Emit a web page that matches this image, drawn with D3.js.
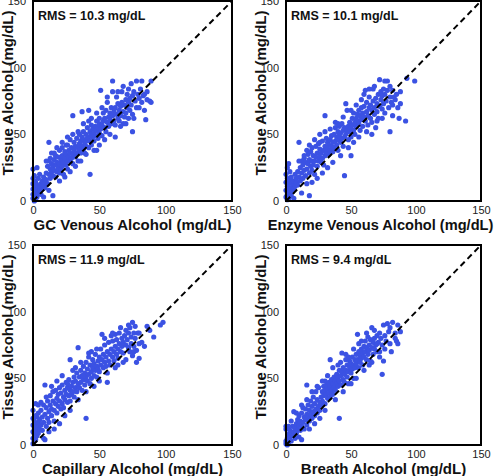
<!DOCTYPE html>
<html><head><meta charset="utf-8">
<script src="https://cdn.jsdelivr.net/npm/d3@7"></script>
<style>
html,body{margin:0;padding:0;background:#fff;}
svg{display:block;font-family:"Liberation Sans",Arial,sans-serif;}
</style></head>
<body>
<svg id="chart" width="496" height="476"></svg>
<script>
const tickValues = [0, 50, 100, 150];
const yTitle = "Tissue Alcohol (mg/dL)";
const xTitles = ["GC Venous Alcohol (mg/dL)", "Enzyme Venous Alcohol (mg/dL)", "Capillary Alcohol (mg/dL)", "Breath Alcohol (mg/dL)"];
const rmsLabels = ["RMS = 10.3 mg/dL", "RMS = 10.1 mg/dL", "RMS = 11.9 mg/dL", "RMS = 9.4 mg/dL"];

const gcVenous = [[0,2],[0,5],[0,9],[0,13],[0,17],[0,24],[1,0],[1,4],[1,11],[1,15],[1,19],[2,1],[2,7],[2,14],[3,3],[3,9],[3,12],[4,6],[4,17],[5,8],[5,11],[6,5],[6,13],[7,9],[7,15],[8,12],[8,18],[9,10],[9,14],[10,16],[10,21],
[11,13],[11,26],[12,20],[12,30],[12,44],[13,17],[13,24],[13,32],[14,22],[14,28],[15,4],[15,19],[15,26],[16,23],[16,31],[17,18],[17,27],[17,34],[18,22],[18,29],[19,25],[19,33],[20,21],[20,28],[20,38],
[21,31],[21,24],[22,26],[22,34],[22,40],[23,29],[23,20],[24,32],[24,37],[25,27],[25,35],[25,42],[26,30],[26,24],[27,33],[27,38],[28,30],[28,36],[28,46],[29,32],[29,40],[30,35],[30,64],[30,28],
[31,38],[31,44],[32,33],[32,41],[33,36],[33,47],[34,40],[34,30],[35,43],[35,38],[35,50],[36,45],[36,36],[37,41],[37,48],[37,67],[38,39],[38,46],[38,52],[39,43],[39,36],[40,45],[40,50],[40,41],
[41,47],[41,55],[42,40],[42,48],[42,68],[43,20],[43,45],[43,52],[44,50],[44,42],[44,57],[45,48],[45,54],[46,51],[46,45],[47,56],[47,49],[48,53],[48,60],[49,47],[49,55],[50,58],[50,51],[50,62],
[51,54],[51,83],[52,57],[52,49],[53,60],[53,66],[54,55],[54,62],[55,52],[55,68],[56,59],[56,78],[57,63],[57,56],[58,66],[58,61],[59,58],[59,70],[60,90],[60,64],[60,82],
[61,60],[61,67],[62,57],[62,70],[63,65],[63,78],[64,62],[64,73],[65,68],[65,60],[66,71],[66,64],[67,82],[67,74],[68,67],[68,58],[69,72],[69,63],[70,76],[70,66],
[71,70],[71,80],[72,84],[72,74],[73,68],[73,77],[74,72],[75,52],[75,79],[75,65],[76,62],[76,82],[77,75],[78,90],[78,70],[79,80],[80,77],
[81,84],[82,90],[82,74],[83,79],[84,80],[85,61],[86,76],[88,75],[89,74],[89,90],
[10,30],[14,36],[18,40],[22,44],[26,48],[20,15],[24,18],[28,22],[32,26],[34,52],[38,58],[36,30],[40,35],[44,62],[46,38],[48,66],[50,42],[52,70],[54,46],[56,74],
[58,50],[62,48],[64,82],[66,56],[68,86],[70,58],[72,62],[74,88],[80,70],[84,68],[86,82],[5,20],[3,25],[8,3],[12,8],[30,50],[42,60],[26,42],[16,36],[48,38]];

const enzymeVenous = [[0,3],[0,8],[0,14],[0,20],[1,1],[1,5],[1,11],[1,17],[1,25],[2,2],[2,9],[2,13],[3,6],[3,16],[3,22],[4,4],[4,10],[5,7],[5,13],[6,15],[6,9],[7,11],[7,20],[8,14],[8,17],[9,12],[9,22],[10,18],[10,44],
[11,15],[11,25],[12,21],[12,30],[13,17],[13,27],[14,23],[14,32],[15,19],[15,29],[16,24],[16,13],[17,28],[17,35],[18,4],[18,21],[18,31],[19,26],[19,37],[20,23],[20,30],[20,40],
[21,27],[21,34],[22,30],[22,20],[23,33],[23,41],[24,26],[24,36],[25,30],[25,43],[26,33],[26,39],[27,29],[27,36],[28,32],[28,45],[29,38],[29,27],[30,64],[30,34],[30,41],
[31,36],[31,47],[32,39],[32,44],[33,35],[33,42],[34,46],[34,38],[35,41],[35,49],[36,37],[36,44],[37,50],[37,40],[38,45],[38,55],[39,42],[39,48],[40,52],[40,38],[40,46],
[41,49],[41,56],[42,44],[42,51],[43,47],[43,58],[44,53],[44,41],[45,19],[45,55],[45,48],[46,50],[46,73],[47,68],[47,53],[48,46],[48,56],[49,52],[49,59],[50,55],[50,48],[50,34],
[51,57],[51,62],[52,53],[52,66],[53,59],[53,50],[54,62],[54,56],[55,65],[55,60],[56,58],[56,68],[57,64],[57,53],[58,61],[58,70],[59,66],[59,56],[60,63],[60,80],[60,71],
[61,83],[61,60],[62,67],[62,74],[63,64],[63,57],[64,70],[64,78],[65,62],[65,72],[66,68],[66,59],[67,75],[67,84],[68,70],[68,65],[69,77],[69,55],[70,73],[70,67],
[71,80],[71,62],[72,91],[72,71],[73,76],[73,82],[74,69],[74,79],[75,84],[75,73],[76,66],[76,80],[77,75],[78,90],[78,83],[79,70],[80,52],[80,78],[80,86],
[81,74],[82,83],[82,72],[83,78],[84,76],[85,80],[87,62],[88,73],[92,60],[93,92],[99,90],
[10,30],[14,34],[18,42],[22,46],[26,50],[20,14],[24,17],[28,21],[32,25],[34,54],[38,59],[36,29],[42,34],[44,63],[48,40],[50,68],[52,44],[54,72],[56,48],[58,76],
[62,52],[64,84],[66,50],[68,86],[70,60],[74,62],[76,90],[82,64],[86,70],[88,82],[4,18],[2,28],[6,2],[12,6],[30,52],[40,58],[26,44],[16,38]];

const capillary = [[0,1],[0,5],[0,10],[0,15],[0,20],[0,26],[1,3],[1,8],[1,13],[1,18],[2,4],[2,11],[2,16],[2,31],[3,7],[3,14],[3,21],[4,9],[4,17],[4,24],[5,12],[5,19],[6,15],[6,26],[7,11],[7,21],[8,5],[8,17],[8,30],[9,45],[9,4],[9,23],[10,14],[10,28],
[11,20],[11,33],[12,25],[12,17],[13,30],[13,37],[14,22],[14,27],[15,33],[15,40],[16,18],[16,26],[17,31],[17,41],[18,24],[18,35],[19,29],[19,38],[20,33],[20,43],
[21,27],[21,39],[22,31],[22,45],[23,36],[23,28],[24,41],[24,34],[25,38],[25,47],[26,32],[26,43],[27,37],[27,49],[28,64],[28,41],[28,33],[29,44],[29,38],[30,47],[30,40],
[31,51],[31,36],[32,43],[32,48],[33,54],[33,40],[34,73],[34,46],[35,51],[35,43],[36,56],[36,47],[37,41],[37,52],[38,49],[38,59],[39,45],[39,54],[40,20],[40,51],[40,62],
[41,48],[41,57],[42,53],[42,69],[43,46],[43,60],[44,55],[44,50],[45,58],[45,64],[46,52],[46,61],[47,56],[47,68],[48,59],[48,51],[49,63],[49,57],[50,66],[50,55],
[51,60],[51,72],[52,83],[52,64],[53,58],[53,68],[54,62],[54,75],[55,66],[55,59],[56,47],[56,70],[57,63],[57,77],[58,68],[58,60],[59,72],[59,82],[60,66],[60,78],
[61,70],[61,63],[62,83],[62,74],[63,68],[63,79],[64,72],[64,65],[65,76],[65,84],[66,70],[67,80],[67,74],[68,77],[68,69],[69,82],[70,75],[70,86],
[71,79],[72,73],[72,84],[73,88],[73,70],[74,81],[74,76],[75,92],[75,67],[76,84],[76,74],[77,80],[77,89],[78,71],[78,62],[79,84],[80,65],[80,76],[82,77],[86,89],[91,81],[96,90],[98,92],
[6,32],[10,36],[14,44],[18,48],[22,52],[16,12],[20,16],[24,22],[28,26],[32,58],[36,62],[34,34],[40,40],[42,66],[46,44],[48,72],[50,48],[54,80],[56,54],[60,84],
[62,58],[66,88],[70,64],[72,90],[76,70],[80,84],[84,74],[88,86],[4,30],[2,22],[12,10],[30,56],[38,52],[26,46],[44,70],[64,60],[68,62]];

const breath = [[0,1],[0,3],[0,12],[0,14],[1,0],[1,5],[2,2],[2,8],[3,6],[3,11],[4,3],[4,9],[5,7],[5,14],[6,10],[6,25],[7,5],[7,13],[8,9],[8,16],[9,12],[9,19],[10,6],[10,15],[10,22],
[11,11],[11,18],[12,4],[12,14],[12,24],[13,17],[13,28],[14,12],[14,21],[15,19],[15,27],[16,15],[16,23],[16,45],[17,21],[17,30],[18,18],[18,26],[19,23],[19,33],[20,20],[20,29],
[21,25],[21,36],[22,22],[22,31],[23,27],[23,40],[24,24],[24,34],[25,29],[25,43],[26,32],[26,26],[27,36],[27,30],[28,40],[28,33],[29,37],[29,44],[30,31],[30,41],[30,48],
[31,38],[31,45],[32,35],[32,42],[33,47],[33,39],[34,64],[34,44],[34,36],[35,41],[35,49],[36,46],[36,38],[37,51],[37,43],[38,48],[38,41],[39,53],[39,46],[40,44],[40,50],
[41,20],[41,48],[41,56],[42,52],[42,45],[43,69],[43,55],[44,49],[44,58],[45,53],[45,47],[46,68],[46,56],[47,51],[47,60],[48,55],[48,46],[49,58],[49,63],[50,61],[50,54],
[51,57],[51,66],[52,60],[52,50],[53,64],[53,58],[54,68],[54,61],[55,83],[55,64],[56,58],[56,70],[57,67],[57,62],[58,72],[58,65],[59,69],[59,60],[60,74],[60,66],
[61,70],[61,78],[62,64],[62,73],[63,81],[63,68],[64,75],[64,71],[65,79],[65,63],[66,73],[66,88],[67,68],[67,77],[68,80],[68,72],[69,75],[70,82],[70,70],
[71,77],[72,84],[72,66],[73,80],[74,53],[74,75],[75,90],[75,63],[76,82],[77,78],[78,91],[79,85],[80,76],[81,70],[82,92],[84,80],[85,78],[86,90],[88,85],
[8,24],[12,30],[16,34],[20,40],[24,44],[18,12],[22,16],[26,20],[30,26],[32,52],[36,58],[38,34],[42,62],[44,40],[48,66],[50,46],[52,72],[54,50],[58,78],[60,56],
[62,84],[66,62],[68,86],[72,70],[76,72],[80,88],[84,84],[86,76],[2,14],[4,18],[28,48],[40,60],[46,64],[56,76],[64,60],[70,76]];

const datasets = [gcVenous, enzymeVenous, capillary, breath];

const svg = d3.select("#chart");
const boxes = [
  {x0: 33, x1: 232, y0: 1, y1: 201},
  {x0: 286, x1: 481, y0: 1, y1: 201},
  {x0: 33, x1: 232, y0: 245, y1: 445},
  {x0: 286, x1: 481, y0: 245, y1: 445}
];
const dotColor = "#3b52e3";
const fontFam = "Liberation Sans, Arial, sans-serif";

boxes.forEach((b, i) => {
  const x = d3.scaleLinear().domain([0, 150]).range([b.x0, b.x1]);
  const y = d3.scaleLinear().domain([0, 150]).range([b.y1, b.y0]);
  const g = svg.append("g");

  g.append("g").selectAll("circle").data(datasets[i]).join("circle")
    .attr("cx", d => x(d[0])).attr("cy", d => y(d[1]))
    .attr("r", 2.6).attr("fill", dotColor);

  g.append("line")
    .attr("x1", x(0)).attr("y1", y(0)).attr("x2", x(150)).attr("y2", y(150))
    .attr("stroke", "#000").attr("stroke-width", 2).attr("stroke-dasharray", "6,4");

  g.append("rect").attr("x", b.x0).attr("y", b.y0)
    .attr("width", b.x1 - b.x0).attr("height", b.y1 - b.y0)
    .attr("fill", "none").attr("stroke", "#000").attr("stroke-width", 2);

  const xa = g.append("g").attr("transform", `translate(0,${b.y1 + 2})`)
    .call(d3.axisBottom(x).tickValues(tickValues).tickSize(0).tickFormat(d3.format("d")));
  xa.select(".domain").remove();
  xa.selectAll("text").attr("font-size", 11).attr("fill", "#222").attr("font-family", fontFam);

  const ya = g.append("g").attr("transform", `translate(${b.x0 - 4},0)`)
    .call(d3.axisLeft(y).tickValues(tickValues).tickSize(0).tickFormat(d3.format("d")));
  ya.select(".domain").remove();
  ya.selectAll("text").attr("font-size", 11).attr("fill", "#222").attr("font-family", fontFam);

  g.append("text").attr("x", (b.x0 + b.x1) / 2 - (i === 1 ? 3 : 0)).attr("y", b.y1 + 29)
    .attr("text-anchor", "middle").attr("font-size", i === 1 ? 14.6 : 15).attr("font-weight", "bold")
    .attr("fill", "#111").text(xTitles[i]);

  const yc = (b.y0 + b.y1) / 2 - 8;
  const tx = b.x0 - 20;
  g.append("text").attr("transform", `translate(${tx},${yc}) rotate(-90)`)
    .attr("text-anchor", "middle").attr("font-size", 15).attr("font-weight", "bold")
    .attr("fill", "#111").text(yTitle);

  g.append("text").attr("x", b.x0 + 5).attr("y", b.y0 + 19)
    .attr("font-size", 12.5).attr("font-weight", "bold").attr("fill", "#111")
    .text(rmsLabels[i]);
});
</script>
</body></html>
